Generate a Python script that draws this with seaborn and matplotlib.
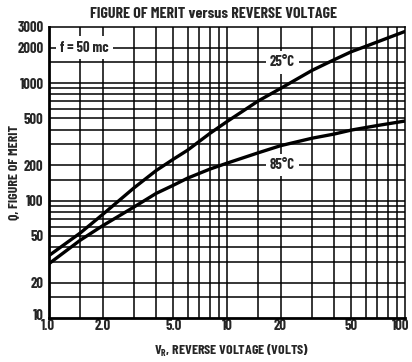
import matplotlib
matplotlib.use("Agg")
import matplotlib.pyplot as plt
import matplotlib.transforms as mtransforms
import seaborn as sns
import pandas as pd
from matplotlib.ticker import FixedLocator, NullLocator

sns.set_theme(style="white")
plt.rcParams['font.family'] = ['Barlow Condensed', 'Liberation Sans Narrow', 'DejaVu Sans']
plt.rcParams['mathtext.fontset'] = 'custom'
plt.rcParams['mathtext.rm'] = 'Barlow Condensed'
plt.rcParams['mathtext.bf'] = 'Barlow Condensed:bold'

voltage_25 = [1.0, 1.5, 2.0, 3.0, 4.0, 5.0, 6.0, 8.0, 10.0, 15.0, 20.0, 30.0, 40.0, 50.0, 60.0, 80.0, 100.0]
q_25c = [34, 53, 76, 128, 180, 225, 268, 372, 470, 705, 900, 1280, 1580, 1850, 2050, 2420, 2750]
voltage_85 = [1.0, 1.5, 2.0, 3.0, 4.0, 5.0, 6.0, 8.0, 10.0, 15.0, 20.0, 30.0, 40.0, 50.0, 70.0, 100.0]
q_85c = [29, 46, 61, 88, 115, 135, 155, 185, 208, 255, 293, 339, 368, 398, 435, 475]

x_ticks = [1, 2, 5, 10, 20, 50, 100]
x_tick_labels = ["1.0", "2.0", "5.0", "10", "20", "50", "100"]
y_ticks = [10, 20, 50, 100, 200, 500, 1000, 2000, 3000]
y_tick_labels = ["10", "20", "50", "100", "200", "500", "1000", "2000", "3000"]
x_grid = [1.5, 2, 3, 4, 5, 6, 7, 8, 9, 10, 15, 20, 30, 40, 50, 60, 70, 80, 90]
y_grid = [15, 20, 30, 40, 50, 60, 70, 80, 90, 100, 150, 200, 300, 400, 500,
          600, 700, 800, 900, 1000, 1500, 2000]

df = pd.DataFrame({
    "V": voltage_25 + voltage_85,
    "Q": q_25c + q_85c,
    "T": ["25°C"] * len(voltage_25) + ["85°C"] * len(voltage_85),
})

fig = plt.figure(figsize=(4.12, 3.62), dpi=100)
ax = fig.add_axes([49/412, 1-318/362, (405-49)/412, (318-27)/362])

ax.set_xscale("log")
ax.set_yscale("log")
ax.set_xlim(1, 100)
ax.set_ylim(10, 3000)

for xv in x_grid:
    ax.axvline(xv, color="black", lw=1.1, zorder=1)
for yv in y_grid:
    ax.axhline(yv, color="black", lw=1.1, zorder=1)

sns.lineplot(data=df, x="V", y="Q", units="T", estimator=None, color="black",
             lw=2.4, ax=ax, zorder=3, legend=False)

ax.xaxis.set_major_locator(FixedLocator(x_ticks))
ax.xaxis.set_minor_locator(NullLocator())
ax.set_xticklabels(x_tick_labels)
ax.yaxis.set_major_locator(FixedLocator(y_ticks))
ax.yaxis.set_minor_locator(NullLocator())
ax.set_yticklabels(y_tick_labels)
ax.tick_params(axis="x", length=0, pad=1, labelsize=10.5)
ax.tick_params(axis="y", length=0, pad=4, labelsize=10.5)
xlabels = ax.get_xticklabels()
ylabels = ax.get_yticklabels()
for lab in xlabels + ylabels:
    lab.set_fontweight("bold")
shift_100 = mtransforms.ScaledTranslation(-4/100, 0, fig.dpi_scale_trans)
xlabels[-1].set_transform(xlabels[-1].get_transform() + shift_100)
shift_1 = mtransforms.ScaledTranslation(-1.5/100, 0, fig.dpi_scale_trans)
xlabels[0].set_transform(xlabels[0].get_transform() + shift_1)
shift_10 = mtransforms.ScaledTranslation(0, 3/100, fig.dpi_scale_trans)
ylabels[0].set_transform(ylabels[0].get_transform() + shift_10)

for side in ["left", "bottom", "right", "top"]:
    ax.spines[side].set_color("black")
ax.spines["left"].set_linewidth(2.0)
ax.spines["bottom"].set_linewidth(2.0)
ax.spines["right"].set_linewidth(1.1)
ax.spines["top"].set_linewidth(1.1)

box = dict(facecolor="white", edgecolor="none", pad=3)
ax.text(1.15, 2000, "f = 50 mc", ha="left", va="center", fontsize=10.5,
        fontweight="bold", bbox=box, zorder=4)
ax.text(20.5, 1500, "25°C", ha="center", va="center", fontsize=10.5,
        fontweight="bold", bbox=box, zorder=4)
ax.text(20.5, 200, "85°C", ha="center", va="center", fontsize=10.5,
        fontweight="bold", bbox=box, zorder=4)

ax.set_xlabel("V$_\\mathbf{R}$, REVERSE VOLTAGE (VOLTS)", fontsize=10,
              fontweight="bold")
ax.xaxis.set_label_coords((232 - 49) / 356, (318 - 351) / 291)
ax.xaxis.label.set_va("center")
ax.set_ylabel("Q, FIGURE OF MERIT", fontsize=10, fontweight="bold")
ax.yaxis.set_label_coords((14 - 49) / 356, 0.5)
ax.yaxis.label.set_va("center")
fig.suptitle("FIGURE OF MERIT versus REVERSE VOLTAGE", x=213/412,
             y=1-14/362, va="center", fontsize=11.5, fontweight="bold")

fig.savefig("out.png", dpi=100)
